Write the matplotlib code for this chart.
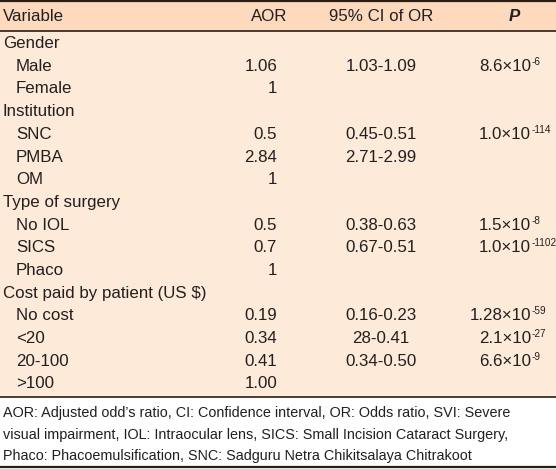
import matplotlib.pyplot as plt
from matplotlib.patches import Rectangle

plt.rcParams['font.family'] = ['Liberation Sans', 'DejaVu Sans']

headers = ['Variable', 'AOR', '95% CI of OR', 'P']

labels = ['Gender', 'Male', 'Female', 'Institution', 'SNC', 'PMBA', 'OM',
          'Type of surgery', 'No IOL', 'SICS', 'Phaco',
          'Cost paid by patient (US $)', 'No cost', '<20', '20-100', '>100']
is_group = [1, 0, 0, 1, 0, 0, 0, 1, 0, 0, 0, 1, 0, 0, 0, 0]
aor = ['', '1.06', '1', '', '0.5', '2.84', '1', '', '0.5', '0.7', '1',
       '', '0.19', '0.34', '0.41', '1.00']
ci = ['', '1.03-1.09', '', '', '0.45-0.51', '2.71-2.99', '', '', '0.38-0.63',
      '0.67-0.51', '', '', '0.16-0.23', '28-0.41', '0.34-0.50', '']
p_mant = ['', '8.6', '', '', '1.0', '', '', '', '1.5', '1.0', '', '',
          '1.28', '2.1', '6.6', '']
p_exp = ['', '-6', '', '', '-114', '', '', '', '-8', '-1102', '', '',
         '-59', '-27', '-9', '']

footnote = ["AOR: Adjusted odd\u2019s ratio, CI: Confidence interval, OR: Odds ratio, SVI: Severe",
            "visual impairment, IOL: Intraocular lens, SICS: Small Incision Cataract Surgery,",
            "Phaco: Phacoemulsification, SNC: Sadguru Netra Chikitsalaya Chitrakoot"]

W, H = 556, 469
fig = plt.figure(figsize=(W / 100, H / 100), dpi=100)
ax = fig.add_axes([0, 0, 1, 1])
ax.set_xlim(0, W)
ax.set_ylim(H, 0)
ax.axis('off')

head_bg = '#FDD9BD'
body_bg = '#FDEAD9'
line_c = '#2b1d14'
txt_c = '#231f20'
fs = 12.2

ax.add_patch(Rectangle((0, 1), W, 30, color=head_bg, lw=0))
ax.add_patch(Rectangle((0, 31), W, 366, color=body_bg, lw=0))
for y, lw in [(1, 1.6), (31, 1.2), (397, 1.2), (467, 1.6)]:
    ax.plot([0, W], [y, y], color=line_c, lw=lw, solid_capstyle='butt')

hy = 16.5
ax.text(3, hy, headers[0], ha='left', va='center', fontsize=fs, color=txt_c)
ax.text(269, hy, headers[1], ha='center', va='center', fontsize=fs, color=txt_c)
ax.text(381, hy, headers[2], ha='center', va='center', fontsize=fs, color=txt_c)
ax.text(514, hy, headers[3], ha='center', va='center', fontsize=fs, color=txt_c,
        fontweight='bold', fontstyle='italic')

y0, dy = 43.5, 22.7
for i, lab in enumerate(labels):
    y = y0 + i * dy
    x = 3 if is_group[i] else 16
    ax.text(x, y, lab, ha='left', va='center', fontsize=fs, color=txt_c)
    if aor[i]:
        ax.text(277, y, aor[i], ha='right', va='center', fontsize=fs, color=txt_c)
    if ci[i]:
        ax.text(381, y, ci[i], ha='center', va='center', fontsize=fs, color=txt_c)
    if p_mant[i]:
        ax.text(531, y, p_mant[i] + '\u00d710', ha='right', va='center',
                fontsize=fs, color=txt_c)
        ax.text(532, y - 4.5, p_exp[i], ha='left', va='center',
                fontsize=7.2, color=txt_c)

for j, line in enumerate(footnote):
    ax.text(3, 413 + j * 21.5, line, ha='left', va='center', fontsize=10.4, color=txt_c)

fig.savefig('out.png', dpi=100)
